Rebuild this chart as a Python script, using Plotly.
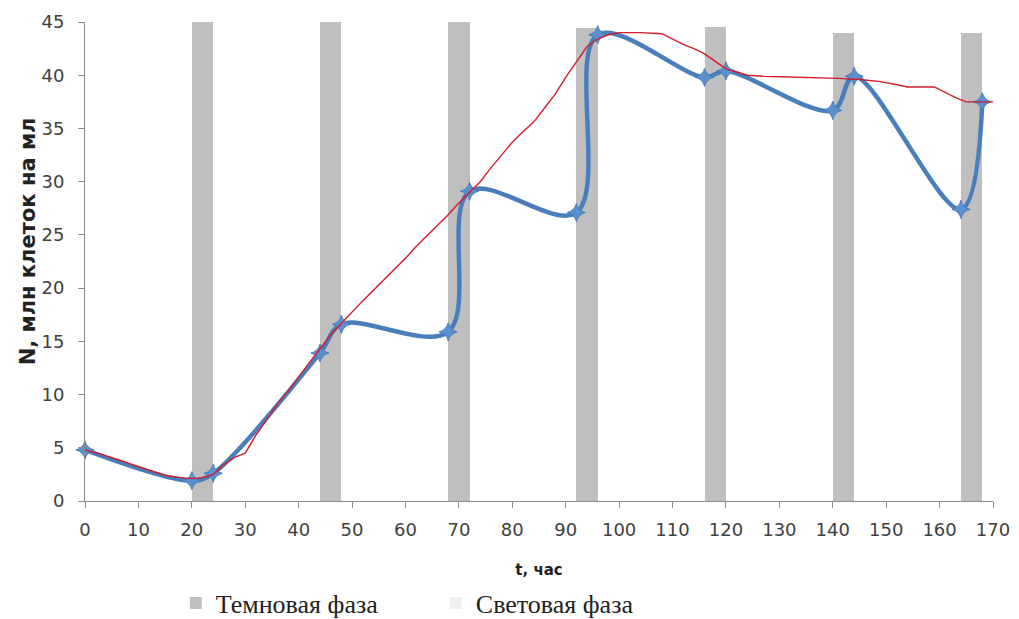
import plotly.graph_objects as go

# Dark phases (start hour, bar top)
dark_start = [20, 44, 68, 92, 116, 140, 164]
dark_top = [45.3, 45.1, 45.0, 44.4, 44.5, 44.0, 44.0]
dark_len = 4

# Measured cell density (blue)
t_meas = [0, 20, 24, 44, 48, 68, 72, 92, 96, 116, 120, 140, 144, 164, 168]
n_meas = [4.8, 1.9, 2.6, 13.9, 16.6, 15.9, 29.1, 27.1, 43.8, 39.8, 40.4, 36.7, 39.9, 27.4, 37.5]

# Reference curve (red)
t_ref = [0, 3, 6, 9, 12, 15, 18, 20, 22, 24, 26, 28, 30, 31, 32, 34, 36, 38, 40, 42, 44, 46, 48,
         50, 52, 54, 56, 58, 60, 62, 64, 66, 68, 70, 72, 74, 76, 78, 80, 82, 84, 86, 88, 90, 92,
         94, 96, 98, 100, 104, 108, 110, 112, 114, 116, 118, 120, 122, 124, 127, 135, 141, 145,
         149, 152, 154, 159, 161, 163, 165, 170]
n_ref = [4.8, 4.4, 3.9, 3.4, 2.9, 2.4, 2.2, 2.1, 2.2, 2.5, 3.4, 4.1, 4.5, 5.3, 6.2, 7.6, 9.1, 10.3,
         11.7, 13.0, 14.3, 15.6, 16.7, 17.8, 18.8, 19.8, 20.8, 21.8, 22.8, 23.9, 24.9, 25.9, 26.9,
         28.0, 29.0, 30.0, 31.3, 32.5, 33.7, 34.7, 35.6, 36.9, 38.2, 39.8, 41.3, 42.7, 43.4, 43.8,
         44.0, 44.0, 43.9, 43.4, 42.9, 42.5, 42.0, 41.3, 40.6, 40.3, 40.0, 39.9, 39.8, 39.7, 39.6,
         39.4, 39.1, 38.9, 38.9, 38.4, 37.9, 37.5, 37.5]

x_ticks = list(range(0, 171, 10))
y_ticks = list(range(0, 46, 5))

fig = go.Figure()

fig.add_trace(go.Bar(
    x=[s + dark_len / 2 for s in dark_start], y=dark_top, width=dark_len,
    marker=dict(color="#bfbfbf", line=dict(width=0)),
    name="Темновая фаза", showlegend=True,
))
fig.add_trace(go.Bar(
    x=[None], y=[None],
    marker=dict(color="#f0f0f0", line=dict(width=0)),
    name="Световая фаза", showlegend=True,
))
fig.add_trace(go.Scatter(
    x=t_meas, y=n_meas, mode="lines+markers",
    line=dict(color="#4a7ebb", width=4.5, shape="spline", smoothing=1),
    marker=dict(symbol="star-diamond", size=13, color="#5b8fd0",
                line=dict(color="#4a7ebb", width=1)),
    showlegend=False, cliponaxis=False,
))
fig.add_trace(go.Scatter(
    x=t_ref, y=n_ref, mode="lines",
    line=dict(color="#d41c2c", width=1.4),
    showlegend=False, cliponaxis=False,
))

axis_font = dict(family="DejaVu Sans", size=18, color="#404040")
ytitle = "&nbsp;" * 6 + "<b>N, млн клеток на мл</b>"
fig.update_layout(
    width=1019, height=619,
    margin=dict(l=85, r=26, t=22, b=118, autoexpand=False),
    paper_bgcolor="white", plot_bgcolor="white",
    barmode="overlay", bargap=0,
    xaxis=dict(
        range=[0, 170], tickvals=x_ticks, ticktext=[str(v) for v in x_ticks],
        showgrid=False, zeroline=False, showline=True, linecolor="#8c8c8c", linewidth=1,
        ticks="outside", ticklen=6, tickcolor="#8c8c8c", tickfont=axis_font,
        ticklabelstandoff=6,
        title=dict(text="<b>t, час</b>", font=dict(family="DejaVu Sans", size=15, color="#222"),
                   standoff=25),
    ),
    yaxis=dict(
        range=[0, 45], tickvals=y_ticks, ticktext=[str(v) for v in y_ticks],
        showgrid=False, zeroline=False, showline=True, linecolor="#8c8c8c", linewidth=1,
        ticks="outside", ticklen=6, tickcolor="#8c8c8c", tickfont=axis_font,
        ticklabelstandoff=10,
        title=dict(text=ytitle,
                   font=dict(family="DejaVu Sans", size=21, color="#222"), standoff=0),
    ),
    legend=dict(
        orientation="h", x=0.1, xanchor="left", y=-0.213, yanchor="middle",
        font=dict(family="Liberation Serif", size=26, color="#222"),
        itemsizing="constant", traceorder="normal", entrywidth=215,
        tracegroupgap=0,
    ),
)

fig.write_html("out.html")
